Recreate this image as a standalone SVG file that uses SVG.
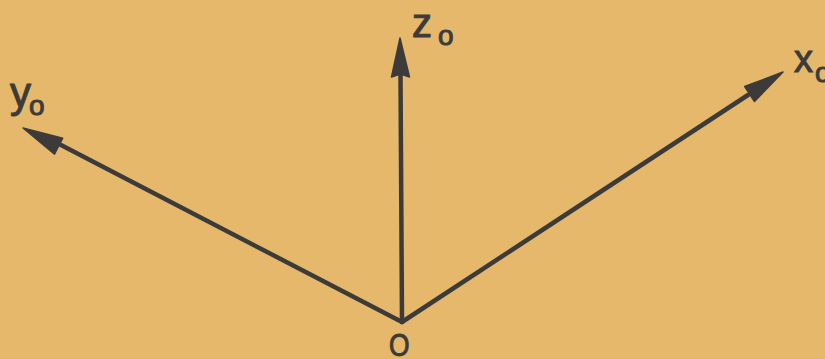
<svg xmlns="http://www.w3.org/2000/svg" width="825" height="359" viewBox="0 0 825 359">
<defs>
<style>
.ax{stroke:#3d3b3a;stroke-width:4.5;fill:none;stroke-linecap:round}
.hd{fill:#3d3b3a;stroke:#3d3b3a;stroke-width:1.5;stroke-linejoin:round}
.lb{font-family:"Liberation Sans",Arial,sans-serif;fill:#3d3b3a;stroke:#3d3b3a;stroke-width:1}
</style>
</defs>
<rect width="825" height="359" fill="#e5b86c"/>
<g id="connectors">
<line class="ax" x1="402" y1="322" x2="400.5" y2="74"/>
<polygon class="hd" points="400,38 409.5,77 400.5,74 391.5,77"/>
<line class="ax" x1="402" y1="322" x2="61" y2="145"/>
<polygon class="hd" points="23,128 62.7,138.2 58.6,146.2 54.5,154.2"/>
<line class="ax" x1="402" y1="322" x2="748" y2="95"/>
<polygon class="hd" points="783,72 754.5,101.5 749.6,94 744.7,86.5"/>
</g>
<g id="z0"><text class="lb" x="412" y="37" font-size="40">z</text><text class="lb" x="438" y="45" font-size="28">o</text></g>
<g id="y0"><text class="lb" x="10" y="107" font-size="42">y</text><text class="lb" x="29" y="115" font-size="28">o</text></g>
<g id="x0"><text class="lb" x="794" y="72" font-size="38">x</text><text class="lb" x="815" y="82" font-size="28">o</text></g>
<g id="origin"><text class="lb" x="0" y="0" font-size="31" transform="translate(389,356) scale(0.85,1)">O</text></g>
</svg>
